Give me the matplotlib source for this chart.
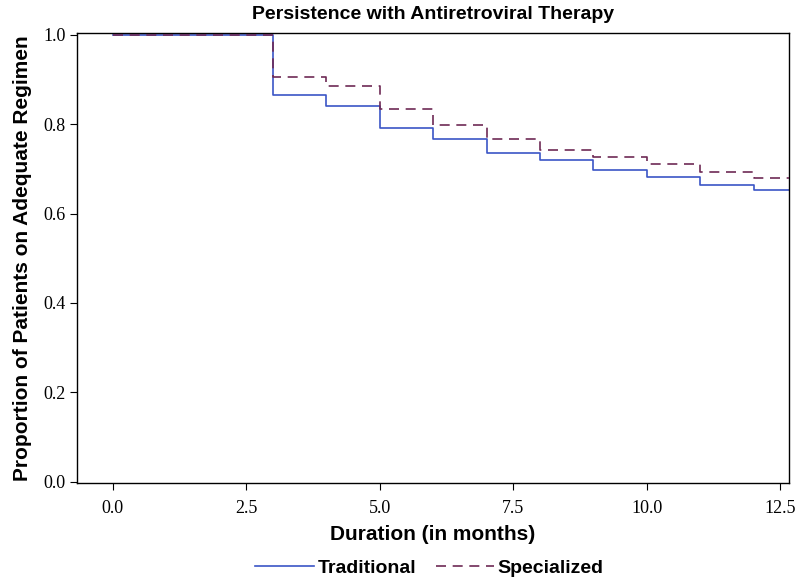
import matplotlib
matplotlib.use("Agg")
import matplotlib.pyplot as plt

# months at which each step starts
months = [0, 3, 4, 5, 6, 7, 8, 9, 10, 11, 12]
traditional = [1.0, 0.865, 0.840, 0.792, 0.766, 0.736, 0.719, 0.697, 0.681, 0.664, 0.652]
specialized = [1.0, 0.906, 0.885, 0.834, 0.799, 0.767, 0.743, 0.726, 0.710, 0.694, 0.679]
x_end = 12.7

xticks = [0.0, 2.5, 5.0, 7.5, 10.0, 12.5]
yticks = [0.0, 0.2, 0.4, 0.6, 0.8, 1.0]

sans = ['Liberation Sans', 'DejaVu Sans']
serif = ['Liberation Serif', 'DejaVu Serif']

fig = plt.figure(figsize=(8, 5.79), dpi=100)
ax = fig.add_axes([0.09625, 0.165, 0.8898, 0.778])

# extend last value to the right edge
xs = months + [x_end]
ax.step(xs, traditional + [traditional[-1]], where='post', color='#3b55c6',
        lw=1.2, label='Traditional', zorder=2)
ax.step(xs, specialized + [specialized[-1]], where='post', color='#6e2a55',
        lw=1.2, ls=(0, (6, 4)), label='Specialized', zorder=3)

ax.set_xlim(-0.67, 12.66)
ax.set_ylim(-0.004, 1.004)
ax.set_xticks(xticks)
ax.set_xticklabels([f"{t:.1f}" for t in xticks], family=serif, fontsize=13)
ax.set_yticks(yticks)
ax.set_yticklabels([f"{t:.1f}" for t in yticks], family=serif, fontsize=13)
ax.tick_params(direction='out', length=5, width=0.8, pad=3)
ax.tick_params(axis='x', pad=7)
for s in ax.spines.values():
    s.set_linewidth(1.0)

ax.set_title('Persistence with Antiretroviral Therapy', family=sans,
             fontweight='bold', fontsize=14, pad=10)
ax.set_xlabel('Duration (in months)', family=sans, fontweight='bold',
              fontsize=15, labelpad=6)
ax.set_ylabel('Proportion of Patients on Adequate Regimen', family=sans,
              fontweight='bold', fontsize=15, labelpad=8)

fig.legend(loc='center', bbox_to_anchor=(0.537, 0.019), ncol=2,
           frameon=False, handlelength=3, handletextpad=0.2, columnspacing=1.0,
           prop={'family': sans, 'weight': 'bold', 'size': 14})

fig.savefig('out.png', dpi=100)
